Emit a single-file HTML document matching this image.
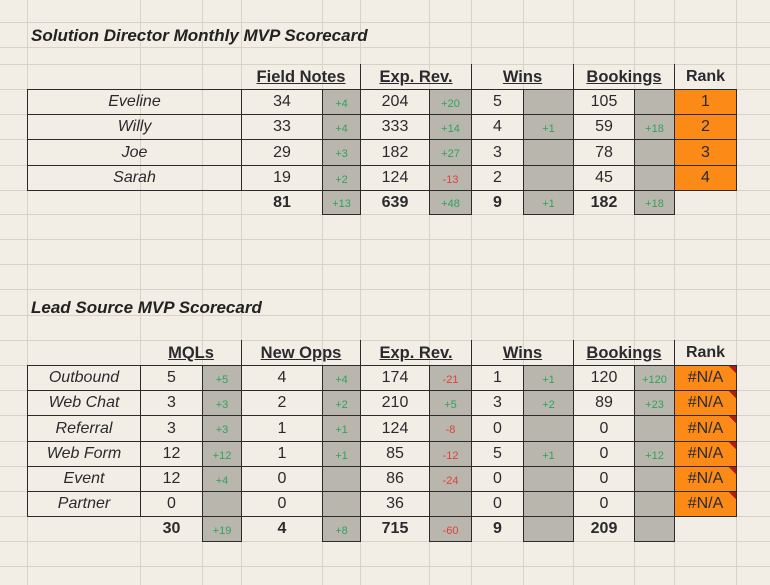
<!DOCTYPE html>
<html><head><meta charset="utf-8">
<style>
html,body{margin:0;padding:0;}
body{width:770px;height:585px;position:relative;overflow:hidden;background:#f3eee5;font-family:"Liberation Sans",Arial,sans-serif;color:#2a2a2e;}
.c{position:absolute;box-sizing:border-box;display:flex;align-items:center;justify-content:center;font-size:16px;}
.b{border:1px solid #2b2b2b;}
.g{background:#b9b6ae;}
.o{background:#fb8b16;}
.d{font-size:11px;padding-top:3px;}
.pos{color:#2fa35a;}
.neg{color:#e0403a;}
.h{font-weight:bold;text-decoration:underline;font-size:16.5px;}
.t{position:absolute;font-weight:bold;font-style:italic;font-size:17px;color:#222;}
.n{font-style:italic;}
.tot{font-weight:bold;}
svg{position:absolute;left:0;top:0;}
</style></head>
<body>
<svg id="grid" width="770" height="585"></svg>
<div id="root"></div>
<script>
const cols=[27,140,202,241,322,360,429,471,523,573,634,674,736];
const rowsY=[-3,22,47,64,89,114,139,165,190,214,239,264,289,315,340,365,390,415,441,466,491,516,541,566];

const t1Names=["Eveline","Willy","Joe","Sarah"];
const t1Field=[34,33,29,19];
const t1FieldD=["+4","+4","+3","+2"];
const t1Rev=[204,333,182,124];
const t1RevD=["+20","+14","+27","-13"];
const t1Wins=[5,4,3,2];
const t1WinsD=["","+1","",""];
const t1Book=[105,59,78,45];
const t1BookD=["","+18","",""];
const t1Rank=["1","2","3","4"];
const t1Tot=[81,"+13",639,"+48",9,"+1",182,"+18"];

const t2Names=["Outbound","Web Chat","Referral","Web Form","Event","Partner"];
const t2Mql=[5,3,3,12,12,0];
const t2MqlD=["+5","+3","+3","+12","+4",""];
const t2Opp=[4,2,1,1,0,0];
const t2OppD=["+4","+2","+1","+1","",""];
const t2Rev=[174,210,124,85,86,36];
const t2RevD=["-21","+5","-8","-12","-24",""];
const t2Wins=[1,3,0,5,0,0];
const t2WinsD=["+1","+2","","+1","",""];
const t2Book=[120,89,0,0,0,0];
const t2BookD=["+120","+23","","+12","",""];
const t2Tot=[30,"+19",4,"+8",715,"-60",9,"",209,""];

const svg=document.getElementById('grid');
let s='';
cols.concat([770]).forEach(x=>{s+=`<line x1="${x+.5}" y1="0" x2="${x+.5}" y2="585" stroke="#d8d3c9" stroke-width="1"/>`;});
rowsY.forEach(y=>{s+=`<line x1="0" y1="${y+.5}" x2="770" y2="${y+.5}" stroke="#d8d3c9" stroke-width="1"/>`;});
[[64,89],[340,365]].forEach(([a,b])=>{[360,471,573,674].forEach(x=>{s+=`<line x1="${x+.5}" y1="${a}" x2="${x+.5}" y2="${b}" stroke="#2b2b2b"/>`;});});
s+=`<line x1="241.5" y1="340" x2="241.5" y2="365" stroke="#2b2b2b"/>`;
svg.innerHTML=s;

const root=document.getElementById('root');
function cell(x1,x2,y1,y2,cls,txt,name){
  const e=document.createElement('div');
  e.className='c '+cls;
  e.style.left=x1+'px';e.style.top=y1+'px';
  e.style.width=(x2-x1+1)+'px';e.style.height=(y2-y1+1)+'px';
  e.textContent=txt;
  
  
  root.appendChild(e);return e;
}
function dcls(v){return v.startsWith('-')?'neg':'pos';}
function title(txt,y,name){
  const e=document.createElement('div');e.className='t';e.style.left='31px';e.style.top=y+'px';e.textContent=txt;
  
  
  root.appendChild(e);
}
title("Solution Director Monthly MVP Scorecard",26,"scorecard-1-title");
const h1=[[241,360,"Field Notes"],[360,471,"Exp. Rev."],[471,573,"Wins"],[573,674,"Bookings"]];
h1.forEach(h=>cell(h[0],h[1],64,89,'h',h[2],'header-'+h[2].toLowerCase().replace(/[^a-z]+/g,'-')));
cell(674,736,64,89,'',"Rank",'header-rank').style.fontWeight='bold';
for(let i=0;i<t1Names.length;i++){
  const y1=rowsY[4+i],y2=rowsY[5+i];
  cell(27,241,y1,y2,'b n',t1Names[i],'director-name');
  cell(241,322,y1,y2,'b',t1Field[i],'field-notes-value');
  cell(322,360,y1,y2,'b g d '+dcls(t1FieldD[i]),t1FieldD[i],'field-notes-delta');
  cell(360,429,y1,y2,'b',t1Rev[i],'exp-rev-value');
  cell(429,471,y1,y2,'b g d '+dcls(t1RevD[i]),t1RevD[i],'exp-rev-delta');
  cell(471,523,y1,y2,'b',t1Wins[i],'wins-value');
  cell(523,573,y1,y2,'b g d '+dcls(t1WinsD[i]),t1WinsD[i],'wins-delta');
  cell(573,634,y1,y2,'b',t1Book[i],'bookings-value');
  cell(634,674,y1,y2,'b g d '+dcls(t1BookD[i]),t1BookD[i],'bookings-delta');
  cell(674,736,y1,y2,'b o',t1Rank[i],'rank-cell');
}
const t1c=[[241,322],[322,360],[360,429],[429,471],[471,523],[523,573],[573,634],[634,674]];
t1c.forEach((c,k)=>{const v=String(t1Tot[k]);const isD=k%2==1;
  cell(c[0],c[1],190,214,isD?('b g d '+dcls(v)):'tot',v,isD?'total-delta':'total-value');});
title("Lead Source MVP Scorecard",298,"scorecard-2-title");
const h2=[[140,241,"MQLs"],[241,360,"New Opps"],[360,471,"Exp. Rev."],[471,573,"Wins"],[573,674,"Bookings"]];
h2.forEach(h=>cell(h[0],h[1],340,365,'h',h[2],'header-'+h[2].toLowerCase().replace(/[^a-z]+/g,'-')));
cell(674,736,340,365,'',"Rank",'header-rank').style.fontWeight='bold';
for(let i=0;i<t2Names.length;i++){
  const y1=rowsY[15+i],y2=rowsY[16+i];
  cell(27,140,y1,y2,'b n',t2Names[i],'lead-source-name');
  cell(140,202,y1,y2,'b',t2Mql[i],'mqls-value');
  cell(202,241,y1,y2,'b g d '+dcls(t2MqlD[i]),t2MqlD[i],'mqls-delta');
  cell(241,322,y1,y2,'b',t2Opp[i],'new-opps-value');
  cell(322,360,y1,y2,'b g d '+dcls(t2OppD[i]),t2OppD[i],'new-opps-delta');
  cell(360,429,y1,y2,'b',t2Rev[i],'exp-rev-value');
  cell(429,471,y1,y2,'b g d '+dcls(t2RevD[i]),t2RevD[i],'exp-rev-delta');
  cell(471,523,y1,y2,'b',t2Wins[i],'wins-value');
  cell(523,573,y1,y2,'b g d '+dcls(t2WinsD[i]),t2WinsD[i],'wins-delta');
  cell(573,634,y1,y2,'b',t2Book[i],'bookings-value');
  cell(634,674,y1,y2,'b g d '+dcls(t2BookD[i]),t2BookD[i],'bookings-delta');
  const r=cell(674,736,y1,y2,'b o',"#N/A",'rank-cell');
  r.style.background='linear-gradient(225deg,#b02010 0,#b02010 5px,#fb8b16 5px)';
}
const t2c=[[140,202],[202,241],[241,322],[322,360],[360,429],[429,471],[471,523],[523,573],[573,634],[634,674]];
t2c.forEach((c,k)=>{const v=String(t2Tot[k]);const isD=k%2==1;
  cell(c[0],c[1],516,541,isD?('b g d '+dcls(v)):'tot',v,isD?'total-delta':'total-value');});
</script>
</body></html>
